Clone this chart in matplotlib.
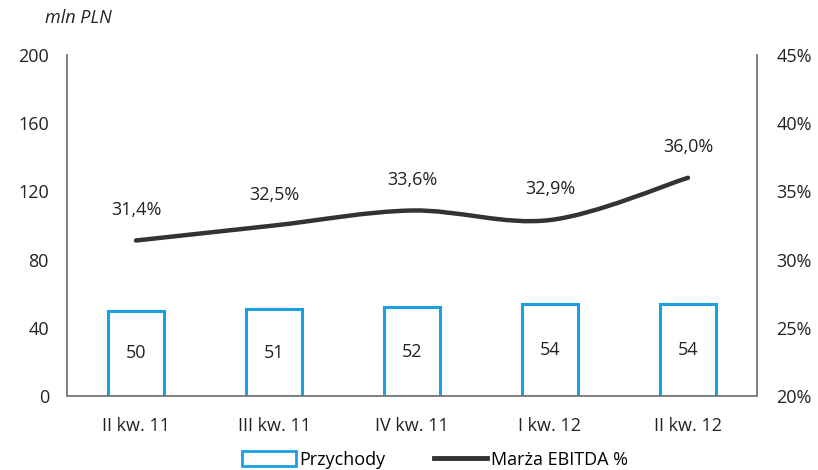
import numpy as np
import matplotlib
matplotlib.use('Agg')
import matplotlib.pyplot as plt
from matplotlib.path import Path
from matplotlib.patches import PathPatch, Patch
from matplotlib.lines import Line2D

plt.rcParams['font.family'] = ['Open Sans', 'DejaVu Sans']

quarters = ['II kw. 11', 'III kw. 11', 'IV kw. 11', 'I kw. 12', 'II kw. 12']
revenue = [50, 51, 52, 54, 54]
ebitda_margin = [31.4, 32.5, 33.6, 32.9, 36.0]
margin_labels = ['31,4%', '32,5%', '33,6%', '32,9%', '36,0%']

bar_color = '#1a9fe3'
line_color = '#333333'
axis_color = '#7f7f7f'
text_color = '#222222'
fs = 13

fig = plt.figure(figsize=(8.18, 4.70), dpi=100)
ax = fig.add_axes([67 / 818, 74 / 470, 690 / 818, 341 / 470])
x = np.arange(len(quarters))

ax.bar(x, revenue, width=0.41, facecolor='white', edgecolor=bar_color, linewidth=2.2, zorder=2)
for xi, v in zip(x, revenue):
    ax.text(xi, v / 2, str(v), ha='center', va='center', fontsize=fs, color=text_color)

ax.set_xlim(-0.5, len(quarters) - 0.5)
ax.set_ylim(0, 200)
ax.set_yticks([0, 40, 80, 120, 160, 200])
ax.set_xticks(x)
ax.set_xticklabels(quarters)
ax.tick_params(axis='both', length=0, labelsize=fs, colors=text_color)
ax.tick_params(axis='y', pad=13)
ax.tick_params(axis='x', pad=15)
ax.spines['top'].set_visible(False)
for s in ['left', 'right', 'bottom']:
    ax.spines[s].set_color(axis_color)
    ax.spines[s].set_linewidth(1.2)

ax2 = ax.twinx()
ax2.set_ylim(20, 45)
ax2.set_yticks([20, 25, 30, 35, 40, 45])
ax2.set_yticklabels([f'{t}%' for t in [20, 25, 30, 35, 40, 45]])
ax2.tick_params(axis='y', length=0, labelsize=fs, colors=text_color, pad=14)
ax2.spines['top'].set_visible(False)
for s in ['left', 'right', 'bottom']:
    ax2.spines[s].set_color(axis_color)
    ax2.spines[s].set_linewidth(1.2)

# smooth curve through the points (Catmull-Rom -> cubic Bezier)
pts = np.column_stack([x, ebitda_margin]).astype(float)
verts = [pts[0]]
codes = [Path.MOVETO]
n = len(pts)
for i in range(n - 1):
    p0 = pts[i - 1] if i > 0 else pts[i]
    p1 = pts[i]
    p2 = pts[i + 1]
    p3 = pts[i + 2] if i + 2 < n else pts[i + 1]
    c1 = p1 + (p2 - p0) / 6
    c2 = p2 - (p3 - p1) / 6
    verts += [c1, c2, p2]
    codes += [Path.CURVE4] * 3
ax2.add_patch(PathPatch(Path(verts, codes), facecolor='none', edgecolor=line_color,
                        linewidth=3.2, capstyle='round', zorder=3))

for xi, v, lab in zip(x, ebitda_margin, margin_labels):
    ax2.annotate(lab, (xi, v), xytext=(0, 22), textcoords='offset points',
                 ha='center', va='center', fontsize=fs, color=text_color)

fig.text(45 / 818, 1 - 18 / 470, 'mln PLN', fontsize=fs, style='italic',
         color=text_color, ha='left', va='center')

handles = [Patch(facecolor='white', edgecolor=bar_color, linewidth=2),
           Line2D([0], [0], color=line_color, linewidth=3.5)]
fig.legend(handles, ['Przychody', 'Marża EBITDA %'], loc='center',
           bbox_to_anchor=(0.532, 1 - 460 / 470), ncol=2, frameon=False,
           fontsize=fs, handlelength=2.95, handleheight=0.9, columnspacing=2.7,
           handletextpad=0.2)

fig.savefig('out.png', dpi=100)
